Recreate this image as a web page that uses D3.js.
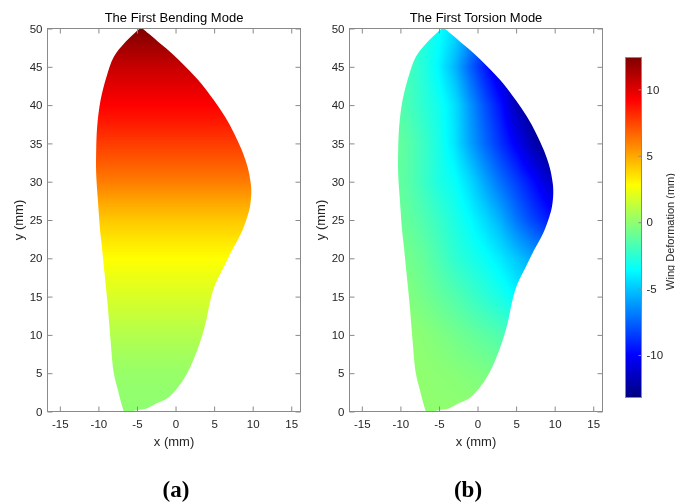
<!DOCTYPE html>
<html>
<head>
<meta charset="utf-8">
<script src="https://cdn.jsdelivr.net/npm/d3@7"></script>
<style>
  html, body { margin: 0; padding: 0; background: #fff; }
  #wrap { position: relative; width: 675px; height: 504px; overflow: hidden; }
  #wrap canvas, #wrap svg { position: absolute; left: 0; top: 0; }
</style>
</head>
<body>
<div id="wrap"></div>
<script>
// Wing planform outline (mm), counter-clockwise from the root's leading corner
const outlineX = [-6.7, -6.91, -7.48, -8.0, -8.43, -8.78, -9.2, -9.6, -9.75, -10.07, -10.29, -10.29, -10.16, -9.73, -8.95, -8.0, -6.7, -5.4, -4.45,
  -3.46, -1.95, -0.43, 1.30, 3.35, 5.0, 6.4, 7.6, 8.6, 9.35, 9.75, 9.82, 9.64, 9.3, 8.52, 7.35, 6.27, 5.19, 4.54, 3.89, 2.81, 1.51, 0.22, -1.08, -2.37, -3.67, -4.97, -5.8];
const outlineY = [0, 0.65, 2.83, 5.0, 9.35, 13.7, 18.0, 22.0, 23.3, 27.6, 31.1, 34.1, 37.2, 40.6, 43.7, 46.3, 48.0, 49.3, 50,
  49.3, 48.0, 46.7, 45.0, 42.8, 40.6, 38.5, 36.3, 34.1, 31.9, 29.8, 28.5, 26.7, 25.4, 23.3, 21.1, 18.9, 16.7, 14.6, 11.5, 8.0, 5.0, 3.05, 1.74, 1.1, 0.44, 0.18, 0];

// First bending mode: deformation (mm) along the span
const bendY = [0, 2.5, 5, 7.5, 10, 12.5, 15, 17.5, 20, 22.5, 25, 27.5, 30, 32.5, 35, 37.5, 40, 42.5, 45, 47.5, 50];
const bendW = [0, 0.05, 0.2, 0.5, 0.9, 1.35, 1.85, 2.3, 2.8, 3.45, 4.2, 5.1, 6.1, 6.9, 7.7, 8.5, 9.2, 9.9, 10.6, 11.5, 12.4];

// First torsion mode: deformation (mm) sampled on a chord x span grid
const gridX = [-11, -9, -7, -5, -3, -1, 1, 3, 5, 7, 9, 11];
const gridY = [0, 5, 10, 15, 20, 25, 30, 35, 40, 45, 50];
const torsionW = [
  [0, 0, 0, 0, 0, 0, 0, 0, 0, 0, 0, 0],
  [0.1, 0.05, 0, -0.1, -0.2, -0.35, -0.5, -0.7, -0.9, -1.1, -1.3, -1.5],
  [0.1, 0.05, -0.15, -0.4, -0.7, -1.0, -1.3, -1.6, -2.0, -2.4, -2.8, -3.2],
  [-0.2, -0.35, -0.7, -1.1, -1.5, -2.0, -2.5, -3.0, -3.7, -4.3, -4.9, -5.5],
  [-0.5, -0.7, -1.1, -1.7, -2.4, -2.9, -3.4, -4.1, -5.0, -5.8, -6.5, -7.2],
  [-0.8, -1.1, -1.6, -2.2, -2.9, -3.6, -4.5, -5.6, -7.0, -8.2, -9.2, -10.0],
  [-1.0, -1.4, -2.1, -2.9, -3.4, -4.5, -5.9, -7.2, -8.4, -9.6, -11.0, -11.8],
  [-0.9, -1.4, -2.1, -3.0, -4.2, -5.9, -7.4, -8.8, -10.2, -11.8, -13.0, -13.2],
  [-1.3, -1.8, -2.5, -3.2, -4.3, -6.2, -8.0, -9.6, -11.8, -12.8, -13.0, -13.0],
  [-1.5, -1.9, -2.7, -3.8, -5.4, -7.5, -9.4, -11.2, -12.3, -13.0, -13.0, -13.0],
  [-1.5, -2.0, -2.8, -3.4, -4.4, -6.0, -8.0, -10.0, -11.5, -12.5, -13.0, -13.0]
];

const xTicks = [-15, -10, -5, 0, 5, 10, 15];
const yTicks = [0, 5, 10, 15, 20, 25, 30, 35, 40, 45, 50];
const cbTicks = [-10, -5, 0, 5, 10];
const cbDomain = [-13.2, 12.4];
const titles = ["The First Bending Mode", "The First Torsion Mode"];
const subLabels = ["(a)", "(b)"];
const xLabel = "x (mm)", yLabel = "y (mm)", cbLabel = "Wing Deformation (mm)";

// ---- layout ----
const W = 675, H = 504;
const xDomain = [-16.6, 16.2], yDomain = [0, 50];
const plotW = 253, plotTop = 28.5, plotBottom = 411.5;
const panels = [
  { left: 47.5, sub: 176 },
  { left: 349.5, sub: 468 }
];
const axisColor = "#8a8a8a", textColor = "#262626";
const font = "'Liberation Sans', Arial, Helvetica, sans-serif";

// MATLAB-style jet colormap
function jet(t) {
  const c = v => Math.max(0, Math.min(1, v));
  const r = c(Math.min(4 * t - 1.5, -4 * t + 4.5));
  const g = c(Math.min(4 * t - 0.5, -4 * t + 3.5));
  const b = c(Math.min(4 * t + 0.5, -4 * t + 2.5));
  return d3.rgb(r * 255, g * 255, b * 255).formatRgb();
}
const color = d3.scaleSequential(jet).domain(cbDomain).clamp(true);

// colour lookup table for the shaded surfaces
const LUT_N = 1024;
const lut = d3.range(LUT_N).map(i => d3.rgb(color(cbDomain[0] + (cbDomain[1] - cbDomain[0]) * i / (LUT_N - 1))));
const lutIndex = w => Math.max(0, Math.min(LUT_N - 1, Math.round((w - cbDomain[0]) / (cbDomain[1] - cbDomain[0]) * (LUT_N - 1))));

// piecewise-linear shading between sampled values
function lerp1(xs, vs, x) {
  const i = Math.max(1, Math.min(xs.length - 1, d3.bisectRight(xs, x)));
  const t = Math.max(0, Math.min(1, (x - xs[i - 1]) / (xs[i] - xs[i - 1])));
  return vs[i - 1] + (vs[i] - vs[i - 1]) * t;
}
const bendField = (x, y) => lerp1(bendY, bendW, y);
function torsionField(x, y) {
  const j = Math.max(1, Math.min(gridY.length - 1, d3.bisectRight(gridY, y)));
  const t = Math.max(0, Math.min(1, (y - gridY[j - 1]) / (gridY[j] - gridY[j - 1])));
  const a = lerp1(gridX, torsionW[j - 1], x), b = lerp1(gridX, torsionW[j], x);
  return a + (b - a) * t;
}
const fields = [bendField, torsionField];

const wrap = d3.select("#wrap");
const canvas = wrap.append("canvas").attr("width", W).attr("height", H).node();
const ctx = canvas.getContext("2d");
const svg = wrap.append("svg").attr("width", W).attr("height", H);

const outline = outlineX.map((x, i) => [x, outlineY[i]]);

panels.forEach((p, k) => {
  const x = d3.scaleLinear().domain(xDomain).range([p.left, p.left + plotW]);
  const y = d3.scaleLinear().domain(yDomain).range([plotBottom, plotTop]);

  // shaded wing surface
  const x0 = Math.floor(p.left), y0 = Math.floor(plotTop);
  const w = Math.ceil(plotW) + 1, h = Math.ceil(plotBottom - plotTop) + 1;
  const off = document.createElement("canvas");
  off.width = w; off.height = h;
  const octx = off.getContext("2d");
  const img = octx.createImageData(w, h);
  const field = fields[k];
  for (let r = 0; r < h; r++) {
    const yv = y.invert(y0 + r + 0.5);
    for (let c = 0; c < w; c++) {
      const xv = x.invert(x0 + c + 0.5);
      const col = lut[lutIndex(field(xv, yv))];
      const o = (r * w + c) * 4;
      img.data[o] = col.r; img.data[o + 1] = col.g; img.data[o + 2] = col.b; img.data[o + 3] = 255;
    }
  }
  octx.putImageData(img, 0, 0);
  const line = d3.line().x(d => x(d[0])).y(d => y(d[1])).curve(d3.curveCatmullRom.alpha(0.5));
  const wingPath = new Path2D(line(outline) + "Z");
  ctx.save();
  ctx.clip(wingPath);
  ctx.drawImage(off, x0, y0);
  ctx.restore();

  const g = svg.append("g");
  const fmt = d => String(d);

  // ticks on all four sides, pointing inward
  const axes = [
    { ax: d3.axisBottom(x).tickValues(xTicks).tickFormat(fmt).tickSize(-5).tickPadding(8), t: `translate(0,${plotBottom})` },
    { ax: d3.axisTop(x).tickValues(xTicks).tickFormat("").tickSize(-5), t: `translate(0,${plotTop})` },
    { ax: d3.axisLeft(y).tickValues(yTicks).tickFormat(fmt).tickSize(-5).tickPadding(5), t: `translate(${p.left},0)` },
    { ax: d3.axisRight(y).tickValues(yTicks).tickFormat("").tickSize(-5), t: `translate(${p.left + plotW},0)` }
  ];
  axes.forEach(a => {
    const ag = g.append("g").attr("transform", a.t).call(a.ax);
    ag.select(".domain").remove();
    ag.selectAll(".tick line").attr("stroke", axisColor);
    ag.selectAll(".tick text").attr("fill", textColor).style("font-family", font).style("font-size", "11.5px");
  });

  g.append("rect")
    .attr("x", p.left).attr("y", plotTop)
    .attr("width", plotW).attr("height", plotBottom - plotTop)
    .attr("fill", "none").attr("stroke", axisColor).attr("stroke-width", 1);

  const cx = p.left + plotW / 2;
  g.append("text").attr("x", cx).attr("y", 22).attr("text-anchor", "middle")
    .style("font-family", font).style("font-size", "13px").attr("fill", "#000").text(titles[k]);
  g.append("text").attr("x", cx).attr("y", 445.5).attr("text-anchor", "middle")
    .style("font-family", font).style("font-size", "13px").attr("fill", textColor).text(xLabel);
  g.append("text").attr("transform", `translate(${p.left - 24.5},${(plotTop + plotBottom) / 2}) rotate(-90)`)
    .attr("text-anchor", "middle")
    .style("font-family", font).style("font-size", "13px").attr("fill", textColor).text(yLabel);
  g.append("text").attr("x", p.sub).attr("y", 497).attr("text-anchor", "middle")
    .style("font-family", "'Liberation Serif', 'Times New Roman', serif").style("font-size", "23px").style("font-weight", "bold")
    .attr("fill", "#000").text(subLabels[k]);
});

// colour bar
const cb = { left: 625.5, width: 16, top: 57.5, bottom: 397.5 };
const cbY = d3.scaleLinear().domain(cbDomain).range([cb.bottom, cb.top]);
const grad = svg.append("defs").append("linearGradient").attr("id", "jetGrad")
  .attr("x1", 0).attr("y1", 1).attr("x2", 0).attr("y2", 0);
grad.selectAll("stop").data(d3.range(0, 65)).join("stop")
  .attr("offset", i => i / 64)
  .attr("stop-color", i => color(cbDomain[0] + (cbDomain[1] - cbDomain[0]) * i / 64));
svg.append("rect").attr("x", cb.left).attr("y", cb.top)
  .attr("width", cb.width).attr("height", cb.bottom - cb.top)
  .attr("fill", "url(#jetGrad)").attr("stroke", axisColor).attr("stroke-width", 1);
const cbAxis = svg.append("g").attr("transform", `translate(${cb.left + cb.width},0)`)
  .call(d3.axisRight(cbY).tickValues(cbTicks).tickFormat(d => String(d)).tickSize(-3).tickPadding(5));
cbAxis.select(".domain").remove();
cbAxis.selectAll(".tick line").attr("stroke", axisColor);
cbAxis.selectAll(".tick text").attr("fill", textColor).style("font-family", font).style("font-size", "11.5px");
svg.append("text").attr("transform", `translate(673.5,${(cb.top + cb.bottom) / 2 + 4}) rotate(-90)`)
  .attr("text-anchor", "middle")
  .style("font-family", font).style("font-size", "11px").attr("fill", textColor).text(cbLabel);
</script>
</body>
</html>
